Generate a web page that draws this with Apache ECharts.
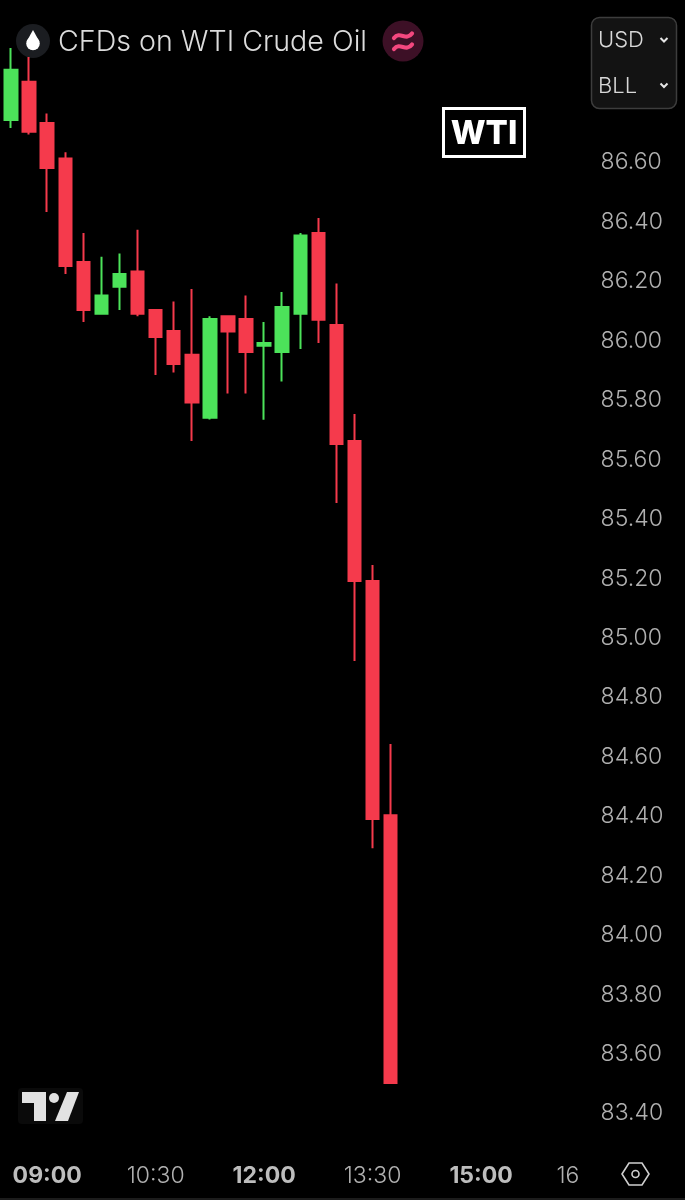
<!DOCTYPE html>
<html><head><meta charset="utf-8">
<style>html,body{margin:0;padding:0;background:#000}#c{width:685px;height:1200px}</style>
<script src="https://cdn.jsdelivr.net/npm/echarts@6/dist/echarts.min.js"></script>
</head><body><div id="c"></div>
<script>
const times = ['08:30','08:45','09:00','09:15','09:30','09:45','10:00','10:15','10:30','10:45','11:00','11:15','11:30','11:45','12:00','12:15','12:30','12:45','13:00','13:15','13:30','13:45','14:00','14:15','14:30','14:45','15:00','15:15','15:30','15:45','16:00','16:15','16:30'];
const opens  = [86.738,86.867,86.728,86.608,86.260,86.086,86.177,86.228,86.099,86.028,85.948,85.736,86.078,86.068,85.978,85.957,86.086,86.358,86.048,85.658,85.187,84.399];
const closes = [86.907,86.698,86.576,86.247,86.099,86.147,86.220,86.086,86.008,85.917,85.787,86.068,86.026,85.957,85.988,86.109,86.349,86.066,85.648,85.187,84.386,83.498];
const lows   = [86.711,86.689,86.428,86.220,86.058,86.086,86.099,86.078,85.880,85.888,85.658,85.730,85.818,85.818,85.729,85.858,85.967,85.988,85.449,84.918,84.288,83.498];
const highs  = [86.980,86.950,86.760,86.629,86.358,86.278,86.289,86.369,86.099,86.127,86.169,86.078,86.078,86.147,86.058,86.159,86.358,86.408,86.188,85.749,85.241,84.638];
const timeLabels = {'09:00':'{b|09:00}','10:30':'{r|10:30}','12:00':'{b|12:00}','13:30':'{r|13:30}','15:00':'{b|15:00}','16:15':'{s|16}'};
const priceMin = 83.2, priceMax = 87.0, priceStep = 0.2;
const hiddenPrices = ['83.20','86.80','87.00'];

const FONT = 'Inter, "Noto Sans", sans-serif';
const UP = '#4ce35a', DOWN = '#f53a4c';
const candles = opens.map((o,i)=>[o,closes[i],lows[i],highs[i]]);
const txt = (x,y,text,size,fill,extra)=>({type:'text',x,y,silent:true,style:Object.assign({text,font:`${(extra&&extra.w)||300} ${size}px ${FONT}`,fill,textVerticalAlign:'middle'},extra&&extra.s)});
const chev = (x,y)=>({type:'polyline',silent:true,shape:{points:[[x-3.5,y-2],[x,y+1.5],[x+3.5,y-2]]},style:{stroke:'#e6e6e6',lineWidth:2,fill:null}});
const wave = (y)=>({type:'bezierCurve',silent:true,shape:{x1:394,y1:y+2.5,cpx1:400,cpy1:y-5,cpx2:406,cpy2:y+6,x2:412,y2:y-2},style:{stroke:'#f4487f',lineWidth:4.2,fill:null,lineCap:'round'}});

const chart = echarts.init(document.getElementById('c'),null,{renderer:'canvas'});
chart.setOption({
  backgroundColor:'#000',
  animation:false,
  grid:{left:2,right:86.4,top:42.1,bottom:28.5,containLabel:false},
  xAxis:{type:'category',data:times,boundaryGap:true,
    axisLine:{show:false},axisTick:{show:false},splitLine:{show:false},
    axisLabel:{interval:0,hideOverlap:false,margin:-7,
      formatter:v=>timeLabels[v]||'',
      rich:{
        b:{fontFamily:FONT,fontSize:23,fontWeight:700,color:'#bdbdbd'},
        r:{fontFamily:FONT,fontSize:23,fontWeight:300,color:'#b0b0b0'},
        s:{fontFamily:FONT,fontSize:23,fontWeight:300,color:'#b0b0b0',padding:[0,7,0,0]}
      }}},
  yAxis:{type:'value',position:'right',min:priceMin,max:priceMax,interval:priceStep,scale:true,
    axisLine:{show:false},axisTick:{show:false},splitLine:{show:false},
    axisLabel:{margin:2,align:'left',
      rich:{p:{fontFamily:FONT,fontSize:23,fontWeight:300,color:'#b0b0b0',padding:[3,0,0,0]}},
      formatter:v=>{const s=v.toFixed(2);return hiddenPrices.includes(s)?'':'{p|'+s+'}';}}},
  series:[{type:'candlestick',data:candles,barWidth:13,clip:false,
    itemStyle:{color:UP,color0:DOWN,borderColor:UP,borderColor0:DOWN,borderWidth:2}}],
  graphic:[
    {type:'circle',silent:true,shape:{cx:33,cy:41,r:17},style:{fill:'#1b1d21'}},
    {type:'circle',silent:true,shape:{cx:33,cy:43.5,r:6.8},style:{fill:'#ffffff'}},
    {type:'polygon',silent:true,shape:{points:[[33,30],[26.6,41.5],[39.4,41.5]]},style:{fill:'#ffffff'}},
    txt(58,42,'CFDs on WTI Crude Oil',28.6,'#dcdcdc'),
    {type:'circle',silent:true,shape:{cx:403,cy:41,r:20.5},style:{fill:'#3d1026'}},
    wave(35.5),wave(46.5),
    {type:'rect',silent:true,shape:{x:591.5,y:17.5,width:85,height:91,r:8},style:{fill:'#131313',stroke:'#3d3d3d',lineWidth:1.5}},
    txt(598,40.5,'USD',22,'#d8d8d8'),
    txt(598,86,'BLL',22,'#d8d8d8'),
    chev(664,40),chev(664,85.5),
    {type:'rect',silent:true,shape:{x:443.5,y:108.5,width:81,height:48},style:{fill:'#000',stroke:'#ffffff',lineWidth:3}},
    txt(484,134.5,'WTI',33,'#ffffff',{w:800,s:{textAlign:'center'}}),
    {type:'rect',silent:true,shape:{x:18,y:1088,width:65,height:36,r:4},style:{fill:'#0a0a0a'}},
    {type:'polygon',silent:true,shape:{points:[[22,1092],[46,1092],[46,1121],[34,1121],[34,1103],[22,1103]]},style:{fill:'#e2e2e2'}},
    {type:'polygon',silent:true,shape:{points:[[67,1092],[79,1092],[68,1121],[55,1121]]},style:{fill:'#e2e2e2'}},
    {type:'circle',silent:true,shape:{cx:54,cy:1098,r:5},style:{fill:'#e2e2e2'}},
    {type:'polygon',silent:true,shape:{points:[[622,1174],[629,1163],[642,1163],[649,1174],[642,1185],[629,1185]]},style:{stroke:'#cfcfcf',lineWidth:1.6,fill:null}},
    {type:'circle',silent:true,shape:{cx:635.5,cy:1174,r:3.5},style:{stroke:'#cfcfcf',lineWidth:1.6,fill:null}},
    {type:'rect',silent:true,shape:{x:0,y:1198,width:685,height:2},style:{fill:'#1c1c1c'}}
  ]
});
</script></body></html>
